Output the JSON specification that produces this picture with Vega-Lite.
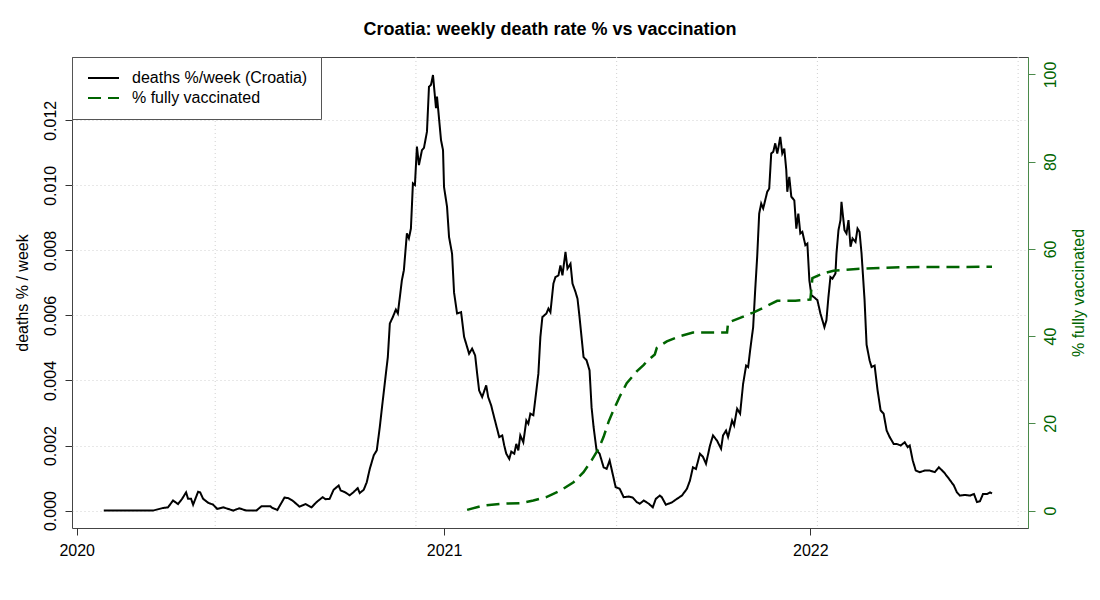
{
  "$schema": "https://vega.github.io/schema/vega-lite/v6.json",
  "description": "Croatia weekly death rate vs share fully vaccinated, two y axes",
  "width": 956,
  "height": 471,
  "autosize": {"type": "none"},
  "padding": {"left": 72, "top": 57, "right": 72, "bottom": 72},
  "background": "white",
  "title": {
    "text": "Croatia: weekly death rate % vs vaccination",
    "font": "Liberation Sans",
    "fontSize": 18,
    "fontWeight": "bold",
    "color": "black",
    "anchor": "middle",
    "frame": "group",
    "offset": 18
  },
  "datasets": {
    "grid": [
      {"date": "2020-05-18"}, {"date": "2020-12-04"}, {"date": "2021-06-22"},
      {"date": "2022-01-08"}, {"date": "2022-07-27"}
    ],
    "deaths": [
      {"date":"2020-01-28","v":0},{"date":"2020-03-17","v":0},{"date":"2020-03-27","v":0.00008},{"date":"2020-04-01","v":0.0001},
      {"date":"2020-04-06","v":0.00031},{"date":"2020-04-11","v":0.0002},{"date":"2020-04-15","v":0.00036},{"date":"2020-04-19","v":0.00056},
      {"date":"2020-04-21","v":0.00036},{"date":"2020-04-24","v":0.00036},{"date":"2020-04-26","v":0.00018},{"date":"2020-05-01","v":0.00058},
      {"date":"2020-05-03","v":0.00056},{"date":"2020-05-06","v":0.00036},{"date":"2020-05-11","v":0.00024},{"date":"2020-05-16","v":0.00018},
      {"date":"2020-05-20","v":0.00005},{"date":"2020-05-26","v":0.0001},{"date":"2020-06-05","v":0},{"date":"2020-06-11","v":0.00007},
      {"date":"2020-06-18","v":0},{"date":"2020-06-28","v":0},{"date":"2020-07-03","v":0.00013},{"date":"2020-07-12","v":0.00013},
      {"date":"2020-07-14","v":0.00008},{"date":"2020-07-19","v":0.00002},{"date":"2020-07-26","v":0.0004},{"date":"2020-07-30","v":0.00038},
      {"date":"2020-08-03","v":0.00031},{"date":"2020-08-10","v":0.00012},{"date":"2020-08-16","v":0.0002},{"date":"2020-08-22","v":0.0001},
      {"date":"2020-08-27","v":0.00026},{"date":"2020-09-02","v":0.00041},{"date":"2020-09-05","v":0.00035},{"date":"2020-09-09","v":0.00036},
      {"date":"2020-09-13","v":0.00064},{"date":"2020-09-18","v":0.00077},{"date":"2020-09-20","v":0.00062},{"date":"2020-09-24","v":0.00057},
      {"date":"2020-09-29","v":0.00047},{"date":"2020-10-03","v":0.00057},{"date":"2020-10-07","v":0.00069},{"date":"2020-10-09","v":0.00054},
      {"date":"2020-10-13","v":0.00064},{"date":"2020-10-16","v":0.00087},{"date":"2020-10-19","v":0.00128},{"date":"2020-10-23","v":0.0017},
      {"date":"2020-10-26","v":0.00185},{"date":"2020-10-29","v":0.00257},{"date":"2020-11-01","v":0.00339},{"date":"2020-11-06","v":0.00472},
      {"date":"2020-11-08","v":0.00575},{"date":"2020-11-11","v":0.00595},{"date":"2020-11-14","v":0.00618},{"date":"2020-11-16","v":0.00606},
      {"date":"2020-11-20","v":0.00708},{"date":"2020-11-22","v":0.00739},{"date":"2020-11-25","v":0.00852},{"date":"2020-11-27","v":0.00837},
      {"date":"2020-11-29","v":0.00867},{"date":"2020-12-01","v":0.01006},{"date":"2020-12-03","v":0.01001},{"date":"2020-12-05","v":0.01119},
      {"date":"2020-12-07","v":0.01062},{"date":"2020-12-10","v":0.01108},{"date":"2020-12-12","v":0.01115},{"date":"2020-12-15","v":0.01165},
      {"date":"2020-12-17","v":0.01303},{"date":"2020-12-19","v":0.01309},{"date":"2020-12-21","v":0.01339},{"date":"2020-12-24","v":0.01237},
      {"date":"2020-12-25","v":0.01273},{"date":"2020-12-29","v":0.01139},{"date":"2020-12-31","v":0.01108},{"date":"2021-01-01","v":0.00995},
      {"date":"2021-01-04","v":0.00934},{"date":"2021-01-06","v":0.00841},{"date":"2021-01-09","v":0.0079},{"date":"2021-01-11","v":0.0067},
      {"date":"2021-01-14","v":0.00606},{"date":"2021-01-18","v":0.0061},{"date":"2021-01-21","v":0.00534},{"date":"2021-01-24","v":0.00503},
      {"date":"2021-01-26","v":0.00482},{"date":"2021-01-29","v":0.00498},{"date":"2021-02-01","v":0.00477},{"date":"2021-02-03","v":0.00421},
      {"date":"2021-02-05","v":0.00369},{"date":"2021-02-08","v":0.00349},{"date":"2021-02-12","v":0.00385},{"date":"2021-02-14","v":0.00349},
      {"date":"2021-02-17","v":0.00323},{"date":"2021-02-19","v":0.00298},{"date":"2021-02-22","v":0.00262},{"date":"2021-02-25","v":0.00226},
      {"date":"2021-02-28","v":0.00231},{"date":"2021-03-02","v":0.002},{"date":"2021-03-04","v":0.00175},{"date":"2021-03-07","v":0.00159},
      {"date":"2021-03-09","v":0.00181},{"date":"2021-03-12","v":0.00175},{"date":"2021-03-14","v":0.00205},{"date":"2021-03-16","v":0.00185},
      {"date":"2021-03-18","v":0.00231},{"date":"2021-03-21","v":0.0021},{"date":"2021-03-24","v":0.00277},{"date":"2021-03-26","v":0.00267},
      {"date":"2021-03-28","v":0.00298},{"date":"2021-03-31","v":0.00293},{"date":"2021-04-03","v":0.00369},{"date":"2021-04-05","v":0.00421},
      {"date":"2021-04-07","v":0.00534},{"date":"2021-04-09","v":0.00595},{"date":"2021-04-13","v":0.00606},{"date":"2021-04-15","v":0.00621},
      {"date":"2021-04-17","v":0.0061},{"date":"2021-04-20","v":0.00698},{"date":"2021-04-22","v":0.00718},{"date":"2021-04-25","v":0.00723},
      {"date":"2021-04-27","v":0.00754},{"date":"2021-04-29","v":0.00723},{"date":"2021-05-02","v":0.00795},{"date":"2021-05-04","v":0.00744},
      {"date":"2021-05-07","v":0.00759},{"date":"2021-05-09","v":0.00698},{"date":"2021-05-12","v":0.00672},{"date":"2021-05-14","v":0.00651},
      {"date":"2021-05-16","v":0.00595},{"date":"2021-05-18","v":0.00534},{"date":"2021-05-20","v":0.00472},{"date":"2021-05-23","v":0.00462},
      {"date":"2021-05-26","v":0.00431},{"date":"2021-05-28","v":0.00318},{"date":"2021-05-30","v":0.00257},{"date":"2021-06-02","v":0.00185},
      {"date":"2021-06-05","v":0.00175},{"date":"2021-06-09","v":0.00133},{"date":"2021-06-12","v":0.00128},{"date":"2021-06-15","v":0.00154},
      {"date":"2021-06-18","v":0.00113},{"date":"2021-06-21","v":0.00072},{"date":"2021-06-25","v":0.00067},{"date":"2021-06-29","v":0.00041},
      {"date":"2021-07-04","v":0.00043},{"date":"2021-07-08","v":0.0004},{"date":"2021-07-12","v":0.00026},{"date":"2021-07-15","v":0.00021},
      {"date":"2021-07-19","v":0.00031},{"date":"2021-07-24","v":0.00021},{"date":"2021-07-28","v":0.0001},{"date":"2021-07-31","v":0.00036},
      {"date":"2021-08-04","v":0.00046},{"date":"2021-08-06","v":0.00041},{"date":"2021-08-10","v":0.00018},{"date":"2021-08-16","v":0.00025},
      {"date":"2021-08-21","v":0.00036},{"date":"2021-08-26","v":0.00046},{"date":"2021-08-31","v":0.00067},{"date":"2021-09-03","v":0.00092},
      {"date":"2021-09-06","v":0.00133},{"date":"2021-09-09","v":0.00128},{"date":"2021-09-13","v":0.00175},{"date":"2021-09-16","v":0.00165},
      {"date":"2021-09-19","v":0.00144},{"date":"2021-09-23","v":0.002},{"date":"2021-09-26","v":0.00231},{"date":"2021-09-30","v":0.00215},
      {"date":"2021-10-04","v":0.0019},{"date":"2021-10-06","v":0.00231},{"date":"2021-10-09","v":0.00246},{"date":"2021-10-11","v":0.00226},
      {"date":"2021-10-15","v":0.00277},{"date":"2021-10-17","v":0.00262},{"date":"2021-10-20","v":0.00313},{"date":"2021-10-23","v":0.00298},
      {"date":"2021-10-26","v":0.0039},{"date":"2021-10-29","v":0.00446},{"date":"2021-10-31","v":0.00441},{"date":"2021-11-02","v":0.00493},
      {"date":"2021-11-05","v":0.00564},{"date":"2021-11-07","v":0.00677},{"date":"2021-11-09","v":0.0078},{"date":"2021-11-11","v":0.00913},
      {"date":"2021-11-13","v":0.00944},{"date":"2021-11-15","v":0.00929},{"date":"2021-11-17","v":0.00954},{"date":"2021-11-19","v":0.0098},
      {"date":"2021-11-21","v":0.0099},{"date":"2021-11-23","v":0.01098},{"date":"2021-11-25","v":0.01103},{"date":"2021-11-27","v":0.01129},
      {"date":"2021-11-29","v":0.01098},{"date":"2021-11-30","v":0.01113},{"date":"2021-12-02","v":0.01149},{"date":"2021-12-04","v":0.01098},
      {"date":"2021-12-06","v":0.01113},{"date":"2021-12-08","v":0.01047},{"date":"2021-12-09","v":0.0098},{"date":"2021-12-11","v":0.01026},
      {"date":"2021-12-13","v":0.00965},{"date":"2021-12-16","v":0.00954},{"date":"2021-12-18","v":0.00867},{"date":"2021-12-20","v":0.00913},
      {"date":"2021-12-22","v":0.00852},{"date":"2021-12-24","v":0.00857},{"date":"2021-12-27","v":0.00816},{"date":"2021-12-29","v":0.00821},
      {"date":"2021-12-31","v":0.00708},{"date":"2022-01-02","v":0.00662},{"date":"2022-01-05","v":0.00655},{"date":"2022-01-08","v":0.00647},
      {"date":"2022-01-11","v":0.00606},{"date":"2022-01-15","v":0.00564},{"date":"2022-01-17","v":0.00585},{"date":"2022-01-19","v":0.00657},
      {"date":"2022-01-21","v":0.00718},{"date":"2022-01-23","v":0.00713},{"date":"2022-01-26","v":0.00729},{"date":"2022-01-27","v":0.0079},
      {"date":"2022-01-29","v":0.00862},{"date":"2022-01-31","v":0.00893},{"date":"2022-02-01","v":0.00949},{"date":"2022-02-04","v":0.00862},
      {"date":"2022-02-06","v":0.00852},{"date":"2022-02-08","v":0.00893},{"date":"2022-02-10","v":0.00811},{"date":"2022-02-12","v":0.00837},
      {"date":"2022-02-15","v":0.00826},{"date":"2022-02-17","v":0.00867},{"date":"2022-02-19","v":0.00857},{"date":"2022-02-21","v":0.0079},
      {"date":"2022-02-24","v":0.00647},{"date":"2022-02-26","v":0.0051},{"date":"2022-03-01","v":0.00462},{"date":"2022-03-03","v":0.00441},
      {"date":"2022-03-06","v":0.00446},{"date":"2022-03-09","v":0.00369},{"date":"2022-03-12","v":0.00308},{"date":"2022-03-15","v":0.00298},
      {"date":"2022-03-18","v":0.00246},{"date":"2022-03-21","v":0.00226},{"date":"2022-03-25","v":0.00205},{"date":"2022-03-28","v":0.00205},
      {"date":"2022-04-01","v":0.002},{"date":"2022-04-05","v":0.0021},{"date":"2022-04-08","v":0.00195},{"date":"2022-04-10","v":0.002},
      {"date":"2022-04-13","v":0.00154},{"date":"2022-04-16","v":0.00123},{"date":"2022-04-20","v":0.00118},{"date":"2022-04-25","v":0.00123},
      {"date":"2022-04-30","v":0.00123},{"date":"2022-05-05","v":0.00118},{"date":"2022-05-09","v":0.00133},{"date":"2022-05-14","v":0.00118},
      {"date":"2022-05-19","v":0.00098},{"date":"2022-05-24","v":0.00077},{"date":"2022-05-27","v":0.00056},{"date":"2022-05-30","v":0.00046},
      {"date":"2022-06-04","v":0.00048},{"date":"2022-06-09","v":0.00046},{"date":"2022-06-13","v":0.00051},{"date":"2022-06-16","v":0.00026},
      {"date":"2022-06-19","v":0.00029},{"date":"2022-06-22","v":0.00051},{"date":"2022-06-26","v":0.00051},{"date":"2022-06-29","v":0.00056},
      {"date":"2022-07-01","v":0.00053}
    ],
    "vacc": [
      {"date":"2021-01-24","pct":0.16},{"date":"2021-02-09","pct":1.15},{"date":"2021-02-26","pct":1.54},{"date":"2021-03-18","pct":1.7},
      {"date":"2021-03-31","pct":2.3},{"date":"2021-04-13","pct":3.1},{"date":"2021-04-27","pct":4.6},{"date":"2021-05-10","pct":6.5},
      {"date":"2021-05-20","pct":8.8},{"date":"2021-05-28","pct":11.5},{"date":"2021-06-04","pct":14.2},{"date":"2021-06-09","pct":16.9},
      {"date":"2021-06-14","pct":20.4},{"date":"2021-06-19","pct":23.1},{"date":"2021-06-25","pct":26.1},{"date":"2021-07-02","pct":29.2},
      {"date":"2021-07-12","pct":31.9},{"date":"2021-07-19","pct":33.4},{"date":"2021-07-22","pct":34.2},{"date":"2021-07-30","pct":35.8},
      {"date":"2021-08-01","pct":37.3},{"date":"2021-08-11","pct":38.8},{"date":"2021-08-24","pct":40},{"date":"2021-09-06","pct":40.8},
      {"date":"2021-10-10","pct":40.8},{"date":"2021-10-11","pct":43.1},{"date":"2021-10-23","pct":44.2},{"date":"2021-11-05","pct":45.4},
      {"date":"2021-11-15","pct":46.5},{"date":"2021-11-29","pct":48.1},{"date":"2021-12-17","pct":48.1},{"date":"2022-01-01","pct":48.4},
      {"date":"2022-01-03","pct":53.3},{"date":"2022-01-14","pct":54.4},{"date":"2022-01-24","pct":55},{"date":"2022-02-16","pct":55.4},
      {"date":"2022-03-31","pct":55.8},{"date":"2022-07-01","pct":55.9}
    ]
  },
  "encoding": {
    "x": {
      "field": "date",
      "type": "temporal",
      "scale": {
        "type": "utc",
        "domain": [
          {"year": 2019, "month": 12, "date": 27, "hours": 8, "utc": true},
          {"year": 2022, "month": 8, "date": 5, "hours": 20, "utc": true}
        ]
      },
      "axis": {
        "title": null,
        "format": "%Y",
        "values": [
          {"year": 2020, "month": 1, "date": 1, "utc": true},
          {"year": 2021, "month": 1, "date": 1, "utc": true},
          {"year": 2022, "month": 1, "date": 1, "utc": true}
        ],
        "grid": false,
        "domain": false,
        "labelPadding": 7
      }
    }
  },
  "layer": [
    {
      "data": {"name": "grid"},
      "mark": {"type": "rule", "color": "#d0d0d0", "strokeDash": [1, 3], "strokeWidth": 1},
      "encoding": {}
    },
    {
      "data": {"name": "deaths"},
      "mark": {"type": "line", "strokeWidth": 2, "interpolate": "linear"},
      "encoding": {
        "y": {
          "field": "v",
          "type": "quantitative",
          "scale": {"domain": [-0.000536, 0.013945], "nice": false, "zero": false},
          "axis": {
            "orient": "left",
            "title": "deaths % / week",
            "values": [0, 0.002, 0.004, 0.006, 0.008, 0.01, 0.012],
            "format": ".3f",
            "grid": true,
            "gridColor": "#d0d0d0",
            "gridDash": [1, 3],
            "domain": false,
            "labelAngle": 270,
            "labelAlign": "center",
            "labelBaseline": "alphabetic",
            "labelPadding": 10,
            "titleAngle": 270,
            "titleAlign": "center",
            "titleBaseline": "alphabetic",
            "titleX": -45,
            "titleY": 235.5
          }
        },
        "color": {
          "datum": "deaths %/week (Croatia)",
          "scale": {"domain": ["deaths %/week (Croatia)", "% fully vaccinated"], "range": ["black", "#006400"]},
          "legend": {"title": null}
        },
        "strokeDash": {
          "datum": "deaths %/week (Croatia)",
          "scale": {"domain": ["deaths %/week (Croatia)", "% fully vaccinated"], "range": [[1, 0], [13, 7]]},
          "legend": {"title": null}
        }
      }
    },
    {
      "data": {"name": "vacc"},
      "mark": {"type": "line", "strokeWidth": 2.5},
      "encoding": {
        "y": {
          "field": "pct",
          "type": "quantitative",
          "scale": {"domain": [-4, 104], "nice": false, "zero": false},
          "axis": {
            "orient": "right",
            "title": "% fully vaccinated",
            "values": [0, 20, 40, 60, 80, 100],
            "format": "d",
            "grid": false,
            "domain": true,
            "domainColor": "#4a8a4a",
            "tickColor": "#4a8a4a",
            "labelColor": "#006400",
            "titleColor": "#006400",
            "labelAngle": 270,
            "labelAlign": "center",
            "labelBaseline": "top",
            "labelPadding": 7,
            "titleAngle": 270,
            "titleAlign": "center",
            "titleBaseline": "alphabetic",
            "titleX": 55,
            "titleY": 235.5
          }
        },
        "color": {"datum": "% fully vaccinated"},
        "strokeDash": {"datum": "% fully vaccinated"}
      }
    }
  ],
  "resolve": {"scale": {"y": "independent"}},
  "config": {
    "font": "Liberation Sans",
    "view": {"stroke": "#444", "strokeWidth": 1},
    "axis": {
      "labelFont": "Liberation Sans",
      "titleFont": "Liberation Sans",
      "labelFontSize": 16,
      "titleFontSize": 16,
      "titleFontWeight": "normal",
      "labelColor": "black",
      "titleColor": "black",
      "tickColor": "#333",
      "tickSize": 7,
      "labelOverlap": false,
      "labelFlush": false
    },
    "legend": {
      "orient": "none",
      "legendX": 0,
      "legendY": 0,
      "padding": 13,
      "fillColor": "white",
      "strokeColor": "#555",
      "labelFont": "Liberation Sans",
      "labelFontSize": 16,
      "labelColor": "black",
      "labelLimit": 400,
      "labelOffset": 31,
      "symbolType": "M-1,0H5.2",
      "symbolSize": 100,
      "symbolStrokeWidth": 2,
      "rowPadding": 4,
      "cornerRadius": 0
    }
  }
}
